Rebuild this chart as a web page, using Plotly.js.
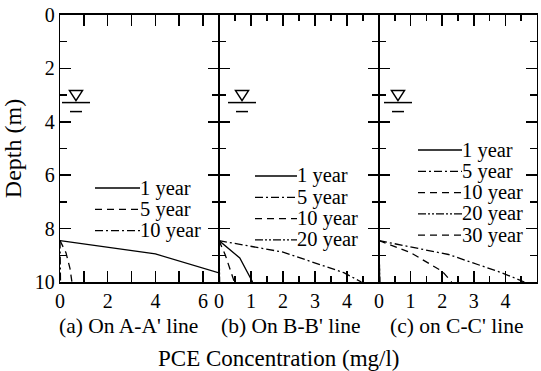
<!DOCTYPE html>
<html>
<head>
<meta charset="utf-8">
<script src="https://cdn.plot.ly/plotly-3.0.1.min.js"></script>
<style>html,body{margin:0;padding:0;background:#fff;}#chart{width:541px;height:371px;}</style>
</head>
<body>
<div id="chart"></div>
<script>
// ---- Data (concentration in mg/l vs depth in m) ----
// Panel (a) On A-A' line
const concA_1yr  = [0, 4.0, 6.67];
const depthA_1yr = [8.45, 8.95, 9.66];
const concA_5yr  = [0, 0.25, 0.42, 0.5];
const depthA_5yr = [8.45, 8.9, 9.5, 10];
const concA_10yr  = [0, 0.02];
const depthA_10yr = [8.45, 10];

// Panel (b) On B-B' line
const concB_1yr  = [0, 0.65, 1.05];
const depthB_1yr = [8.45, 9.1, 10];
const concB_5yr  = [0, 2.0, 3.9, 4.45];
const depthB_5yr = [8.45, 8.88, 9.65, 10];
const concB_10yr  = [0, 0.2, 0.48];
const depthB_10yr = [8.45, 9.0, 10];
const concB_20yr  = [0, 0.02];
const depthB_20yr = [8.45, 10];

// Panel (c) on C-C' line
const concC_1yr  = [0, 0.02];
const depthC_1yr = [8.45, 10];
const concC_5yr  = [0, 2.2, 3.9, 4.6];
const depthC_5yr = [8.45, 8.97, 9.66, 10];
const concC_10yr  = [0, 1.0, 2.0, 2.3];
const depthC_10yr = [8.45, 8.9, 9.6, 10];
const concC_20yr  = [0, 0.02];
const depthC_20yr = [8.45, 10];
const concC_30yr  = [0, 0.02];
const depthC_30yr = [8.45, 10];

// Groundwater level symbol locations (x in mg/l, depth in m)
const wtConc  = [0.67, 0.72, 0.60];
const wtDepth = [3.28, 3.28, 3.28];

const captions = ["(a) On A-A' line", "(b) On B-B' line", "(c) on C-C' line"];
const xTickValsA = [0, 2, 4, 6];
const xTickValsB = [0, 1, 2, 3, 4];
const xTickValsC = [0, 1, 2, 3, 4, 5];
const yTickVals = [0, 2, 4, 6, 8, 10];

// ---- Styles ----
const FONT = "Liberation Serif";
const DASH = {
  solid: 'solid',
  dash: '7px,5px',
  dashdot: '8px,3px,2px,3px',
  dashdotdot: '8px,2px,2px,2px,2px,2px'
};
function tr(x, y, name, dash, xa, ya, panel) {
  return {x: x, y: y, name: name, type: 'scatter', mode: 'lines', showlegend: false,
    line: {color: '#000', width: 1.3, dash: DASH[dash]},
    xaxis: xa, yaxis: ya, meta: {panel: panel, dash: dash}};
}
const traces = [
  tr(concA_1yr, depthA_1yr, '1 year', 'solid', 'x', 'y', 0),
  tr(concA_5yr, depthA_5yr, '5 year', 'dash', 'x', 'y', 0),
  tr(concA_10yr, depthA_10yr, '10 year', 'dashdot', 'x', 'y', 0),
  tr(concB_1yr, depthB_1yr, '1 year', 'solid', 'x2', 'y2', 1),
  tr(concB_5yr, depthB_5yr, '5 year', 'dashdot', 'x2', 'y2', 1),
  tr(concB_10yr, depthB_10yr, '10 year', 'dash', 'x2', 'y2', 1),
  tr(concB_20yr, depthB_20yr, '20 year', 'dashdotdot', 'x2', 'y2', 1),
  tr(concC_1yr, depthC_1yr, '1 year', 'solid', 'x3', 'y3', 2),
  tr(concC_5yr, depthC_5yr, '5 year', 'dashdot', 'x3', 'y3', 2),
  tr(concC_10yr, depthC_10yr, '10 year', 'dash', 'x3', 'y3', 2),
  tr(concC_20yr, depthC_20yr, '20 year', 'dashdotdot', 'x3', 'y3', 2),
  tr(concC_30yr, depthC_30yr, '30 year', 'dash', 'x3', 'y3', 2)
];

function xax(domain, range, tickvals, minorDtick, minorLen, anchor) {
  return {domain: domain, range: range, anchor: anchor, tickmode: 'array', tickvals: tickvals,
    ticks: 'inside', ticklen: 11, tickwidth: 1.5, tickcolor: '#000',
    minor: {dtick: minorDtick, tick0: 0, ticks: 'inside', ticklen: minorLen, tickwidth: 1.5, tickcolor: '#000'},
    showline: true, linewidth: 1.8, linecolor: '#000', mirror: 'ticks',
    showgrid: false, zeroline: false, fixedrange: true,
    tickfont: {family: FONT, size: 20, color: '#000'}};
}
function yax(anchor, labels) {
  return {domain: [0, 1], range: [10, 0], anchor: anchor, tickmode: 'array', tickvals: yTickVals,
    ticks: 'inside', ticklen: 11, tickwidth: 1.5, tickcolor: '#000',
    minor: {dtick: 1, tick0: 0, ticks: 'inside', ticklen: 7, tickwidth: 1.5, tickcolor: '#000'},
    showline: true, linewidth: 1.2, linecolor: '#000', mirror: 'ticks',
    showgrid: false, zeroline: false, fixedrange: true, showticklabels: labels,
    tickfont: {family: FONT, size: 20, color: '#000'}};
}

const xrefs = ['x', 'x2', 'x3'];
const yrefs = ['y', 'y2', 'y3'];
const shapes = [];
for (let i = 0; i < 3; i++) {
  const base = {xref: xrefs[i], yref: yrefs[i], xsizemode: 'pixel', ysizemode: 'pixel',
    xanchor: wtConc[i], yanchor: wtDepth[i], line: {color: '#000', width: 1.5}};
  shapes.push(Object.assign({}, base, {type: 'path', path: 'M-6.5,12 L6.5,12 L0,2 Z'}));
  shapes.push(Object.assign({}, base, {type: 'line', x0: -14, x1: 14, y0: 0, y1: 0}));
  shapes.push(Object.assign({}, base, {type: 'line', x0: -6, x1: 6, y0: -9, y1: -9}));
}

const annotations = [];
// Legend boxes per panel (pixel layout of the figure): sample start, sample end, first row center
const PLOT_L = 60, PLOT_T = 15, PLOT_W = 477, PLOT_H = 267;
const px2x = p => (p - PLOT_L) / PLOT_W;
const px2y = p => (PLOT_T + PLOT_H - p) / PLOT_H;
const legendBox = [
  {x0: 95, x1: 140, y: 188},
  {x0: 255, x1: 297, y: 176},
  {x0: 418, x1: 462, y: 150}
];
const ROW = 21.3;
const rowCount = [0, 0, 0];
traces.forEach(t => {
  const p = t.meta.panel, b = legendBox[p], r = rowCount[p]++;
  const yy = px2y(b.y + r * ROW);
  shapes.push({type: 'line', xref: 'paper', yref: 'paper', x0: px2x(b.x0), x1: px2x(b.x1),
    y0: yy, y1: yy, line: {color: '#000', width: 1.3, dash: DASH[t.meta.dash]}});
  annotations.push({text: t.name, xref: 'paper', yref: 'paper', x: px2x(b.x1 - 1), y: yy,
    xanchor: 'left', yanchor: 'middle', showarrow: false, borderpad: 0,
    font: {family: FONT, size: 20.5, color: '#000'}});
});

const capX = [0.1426, 0.484, 0.832];
captions.forEach((t, i) => annotations.push({text: t, xref: 'paper', yref: 'paper',
  x: capX[i], y: -0.163, xanchor: 'center', yanchor: 'middle', showarrow: false,
  font: {family: FONT, size: 21.5, color: '#000'}}));
annotations.push({text: 'PCE Concentration (mg/l)', xref: 'paper', yref: 'paper',
  x: 0.459, y: -0.285, xanchor: 'center', yanchor: 'middle', showarrow: false,
  font: {family: FONT, size: 23, color: '#000'}});

const layout = {
  width: 541, height: 371,
  margin: {l: 60, r: 4, t: 15, b: 89},
  paper_bgcolor: '#fff', plot_bgcolor: '#fff',
  font: {family: FONT, color: '#000'},
  showlegend: false,
  xaxis: xax([0, 0.3333], [0, 6.667], xTickValsA, 1, 11, 'y'),
  xaxis2: xax([0.3333, 0.6688], [0, 5], xTickValsB, 0.5, 6, 'y2'),
  xaxis3: xax([0.6688, 1], [0, 5], xTickValsC, 0.5, 6, 'y3'),
  yaxis: Object.assign(yax('x', true), {title: {text: 'Depth (m)', standoff: 6, font: {family: FONT, size: 24, color: '#000'}}}),
  yaxis2: yax('x2', false),
  yaxis3: yax('x3', false),
  shapes: shapes,
  annotations: annotations
};

Plotly.newPlot('chart', traces, layout, {staticPlot: true, displayModeBar: false});
</script>
</body>
</html>
